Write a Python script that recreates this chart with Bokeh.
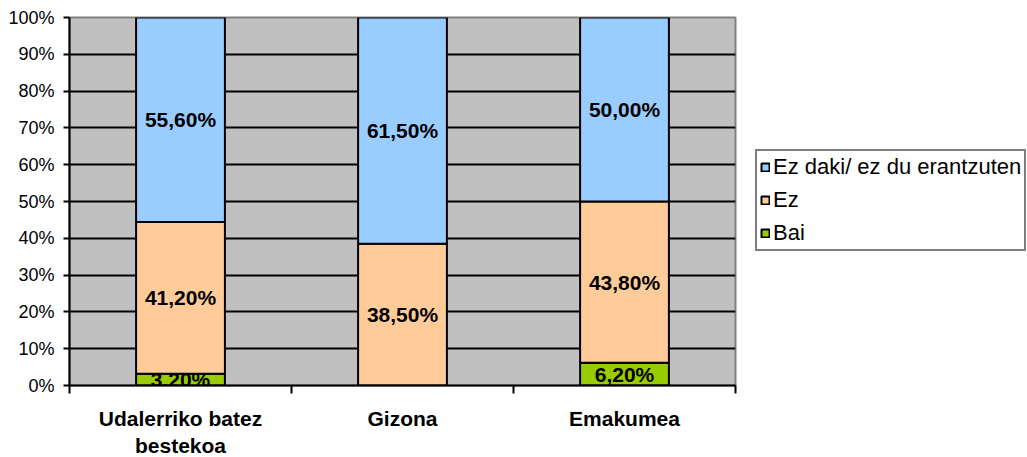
from bokeh.plotting import figure
from bokeh.models import Range1d, FixedTicker, Legend, LegendItem, ColumnDataSource
from bokeh.core.properties import value
from bokeh.embed import file_html
from bokeh.resources import INLINE

categories = ["Udalerriko batez\nbestekoa", "Gizona", "Emakumea"]
series_names = ["Bai", "Ez", "Ez daki/ ez du erantzuten"]
bai = [3.2, 0.0, 6.2]
ez = [41.2, 38.5, 43.8]
ez_daki = [55.6, 61.5, 50.0]
colors = ["#99CC00", "#FFCC99", "#99CCFF"]
y_ticks = [0, 10, 20, 30, 40, 50, 60, 70, 80, 90, 100]

FONT = "Liberation Sans"

p = figure(width=1027, height=457, frame_width=666, frame_height=368,
           min_border_left=69, min_border_right=292, min_border_top=17, min_border_bottom=72,
           x_range=Range1d(0, 3), y_range=Range1d(0, 100),
           output_backend="svg", toolbar_location=None)

p.background_fill_color = "#C0C0C0"
p.border_fill_color = "white"
p.outline_line_color = "#808080"
p.outline_line_width = 2

xs = [i + 0.5 for i in range(len(categories))]
src = ColumnDataSource(dict(x=xs, bai=bai, ez=ez, ez_daki=ez_daki))
rs = p.vbar_stack(["bai", "ez", "ez_daki"], x="x", width=0.4, source=src,
                  fill_color=colors, line_color="black", line_width=2)

# labels
lx, ly, lt = [], [], []
for i in range(len(categories)):
    bottom = 0.0
    for vals in (bai, ez, ez_daki):
        v = vals[i]
        if v > 0:
            lx.append(xs[i])
            ly.append(bottom + v / 2)
            lt.append(f"{v:.2f}".replace(".", ",") + "%")
        bottom += v
p.text(x=lx, y=ly, text=lt, text_align="center", text_baseline="middle",
       text_font=value(FONT), text_font_style="bold", text_font_size="21px",
       text_color="black")

# grid
p.xgrid.visible = False
p.ygrid.ticker = FixedTicker(ticks=y_ticks)
p.ygrid.grid_line_color = "black"
p.ygrid.grid_line_width = 2

# y axis
ya = p.yaxis[0]
ya.ticker = FixedTicker(ticks=y_ticks)
ya.major_label_overrides = {t: f"{t}%" for t in y_ticks}
ya.axis_line_color = "black"
ya.axis_line_width = 2
ya.major_tick_line_color = "black"
ya.major_tick_line_width = 2
ya.major_tick_out = 6
ya.major_tick_in = 0
ya.minor_tick_line_color = None
ya.major_label_standoff = 9
ya.major_label_text_font = FONT
ya.major_label_text_font_size = "18px"
ya.major_label_text_color = "black"

# x axis
xa = p.xaxis[0]
xa.ticker = FixedTicker(ticks=xs, minor_ticks=[0, 1, 2, 3])
xa.major_label_overrides = {x: c for x, c in zip(xs, categories)}
xa.axis_line_color = "black"
xa.axis_line_width = 2
xa.major_tick_line_color = None
xa.major_tick_out = 0
xa.major_tick_in = 0
xa.minor_tick_line_color = "black"
xa.minor_tick_line_width = 2
xa.minor_tick_out = 8
xa.minor_tick_in = 0
xa.major_label_standoff = 13
xa.major_label_text_font = FONT
xa.major_label_text_font_style = "bold"
xa.major_label_text_font_size = "21px"
xa.major_label_text_color = "black"

# legend
items = [LegendItem(label=series_names[k], renderers=[rs[k]]) for k in (2, 1, 0)]
legend = Legend(items=items, location=(20, 134), orientation="vertical")
legend.label_text_font = FONT
legend.label_text_font_size = "22px"
legend.label_text_color = "black"
legend.glyph_width = 10
legend.glyph_height = 10
legend.label_standoff = 3
legend.spacing = 7
legend.padding = 3
legend.margin = 0
legend.border_line_color = "black"
legend.border_line_width = 2
legend.background_fill_color = "white"
legend.background_fill_alpha = 1
p.add_layout(legend, "right")

open("out.html", "w").write(file_html(p, INLINE))
